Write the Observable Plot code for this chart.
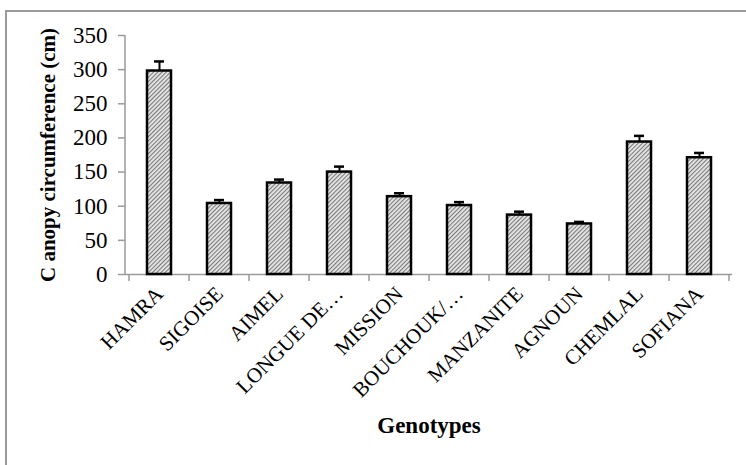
<!DOCTYPE html>
<html>
<head>
<meta charset="utf-8">
<script src="https://cdn.jsdelivr.net/npm/d3@7"></script>
<script src="https://cdn.jsdelivr.net/npm/@observablehq/plot@0.6"></script>
<style>
  html, body { margin: 0; padding: 0; background: #fff; width: 746px; height: 465px; overflow: hidden; }
  #wrap { position: relative; width: 746px; height: 465px; }
  #border { position: absolute; left: 5px; top: 10px; width: 800px; height: 600px;
            border-top: 2px solid #9a9a9a; border-left: 2px solid #9a9a9a; }
  #chart { position: absolute; left: 0; top: 0; }
</style>
</head>
<body>
<div id="wrap">
  <div id="border"></div>
  <div id="chart"></div>
</div>
<script>
const genotypes = ["HAMRA", "SIGOISE", "AIMEL", "LONGUE DE…", "MISSION", "BOUCHOUK/…", "MANZANITE", "AGNOUN", "CHEMLAL", "SOFIANA"];
const means = [298, 104, 134, 150, 114, 101, 87, 74, 194, 171];
const errors = [14, 5, 5, 8, 5, 5, 5, 3, 9, 7];
const yTicks = [0, 50, 100, 150, 200, 250, 300, 350];

const data = genotypes.map((g, i) => ({g, v: means[i], hi: means[i] + errors[i]}));

const serif = "'Liberation Serif', 'Times New Roman', serif";

function patternDefs() {
  const g = d3.create("svg:g");
  const p = g.append("defs").append("pattern")
    .attr("id", "hatch").attr("patternUnits", "userSpaceOnUse")
    .attr("width", 3).attr("height", 3)
    .attr("patternTransform", "rotate(45)");
  p.append("rect").attr("width", 3).attr("height", 3).attr("fill", "#e6e6e6");
  p.append("rect").attr("width", 1.1).attr("height", 3).attr("fill", "#7a7a7a");
  return g.node();
}

function boundaryTicks(index, scales, values, dimensions) {
  const x = scales.x;
  const {marginLeft, marginRight, marginBottom, width, height} = dimensions;
  const yb = height - marginBottom;
  const step = x.step ? x.step() : (width - marginLeft - marginRight) / genotypes.length;
  const xs = genotypes.map(d => x(d));
  xs.push(xs[xs.length - 1] + step);
  const g = d3.create("svg:g").attr("stroke", "#9a9a9a").attr("stroke-width", 1.5);
  g.selectAll("line").data(xs).join("line")
    .attr("x1", d => d).attr("x2", d => d)
    .attr("y1", yb).attr("y2", yb + 7);
  g.append("line").attr("x1", marginLeft).attr("x2", marginLeft)
    .attr("y1", dimensions.marginTop).attr("y2", yb);
  return g.node();
}

const plot = Plot.plot({
  width: 746,
  height: 465,
  marginLeft: 125,
  marginRight: 14,
  marginTop: 35,
  marginBottom: 191,
  style: {fontFamily: serif, fontSize: "20px", color: "black", background: "transparent"},
  x: {domain: genotypes, paddingInner: 0, paddingOuter: 0, label: null},
  y: {domain: [0, 350], label: null},
  marks: [
    patternDefs,
    Plot.ruleY([0], {stroke: "#9a9a9a", strokeWidth: 1.5}),
    boundaryTicks,
    Plot.axisY(yTicks, {tickSize: 7, stroke: "#9a9a9a", strokeWidth: 1.5, fill: "black", tickPadding: 11, fontSize: 23, label: null}),
    Plot.axisX({tickSize: 0, tickRotate: -45, tickPadding: 16, fontSize: 21, fill: "black", label: null}),
    Plot.ruleX(data, {x: "g", y1: "v", y2: "hi", stroke: "black", strokeWidth: 2}),
    Plot.tickY(data, {x: "g", y: "hi", stroke: "black", strokeWidth: 2.5, inset: 25}),
    Plot.barY(data, {x: "g", y: "v", fill: "url(#hatch)", stroke: "black", strokeWidth: 2.5, insetLeft: 18, insetRight: 18}),
    Plot.text(["C anopy circumference (cm)"], {frameAnchor: "left", textAnchor: "middle", rotate: -90, dx: -77, fontWeight: "bold", fontSize: 21, fill: "black"}),
    Plot.text(["Genotypes"], {frameAnchor: "bottom", dy: 158, fontWeight: "bold", fontSize: 23, fill: "black"})
  ]
});

document.getElementById("chart").appendChild(plot);
</script>
</body>
</html>
